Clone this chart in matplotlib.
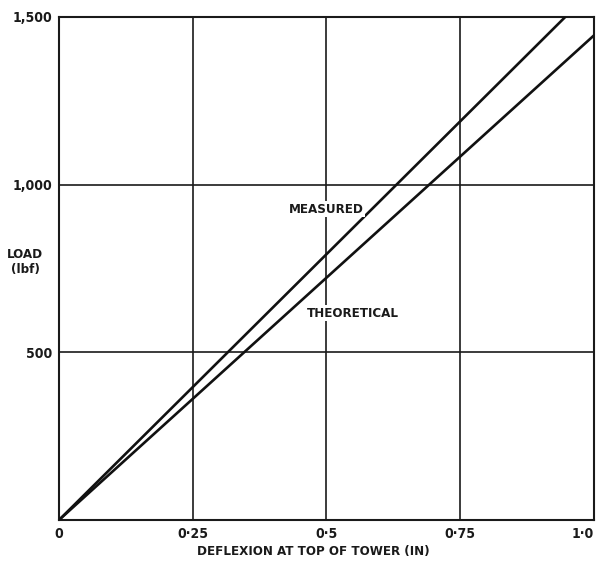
import matplotlib
matplotlib.use("Agg")
import matplotlib.pyplot as plt

# Load-deflexion data for the tower top
deflexion = [0.0, 1.0]
measured_load = [0.0, 1585.0]
theoretical_load = [0.0, 1445.0]

x_ticks = [0.0, 0.25, 0.5, 0.75, 1.0]
x_tick_labels = ["0", "0·25", "0·5", "0·75", "1·0"]
y_ticks = [500, 1000, 1500]
y_tick_labels = ["500", "1,000", "1,500"]

font = dict(family="DejaVu Sans", stretch="condensed", weight="bold")
ink = "#1a1a1a"

fig = plt.figure(figsize=(6.03, 5.65), dpi=100)
ax = fig.add_axes([0.0978, 0.0796, 0.8872, 0.8904])

ax.set_xlim(0, 1.0)
ax.set_ylim(0, 1500)

# grid
for xv in x_ticks[1:]:
    ax.axvline(xv, color=ink, lw=1.2, zorder=1)
for yv in y_ticks:
    ax.axhline(yv, color=ink, lw=1.2, zorder=1)

ax.plot(deflexion, measured_load, color="#111111", lw=1.9, zorder=3)
ax.plot(deflexion, theoretical_load, color="#111111", lw=1.9, zorder=3)

for s in ax.spines.values():
    s.set_linewidth(1.5)
    s.set_color(ink)

ax.set_xticks(x_ticks)
ax.set_xticklabels(x_tick_labels, fontsize=10, color=ink, **font)
ax.set_yticks(y_ticks)
ax.set_yticklabels(y_tick_labels, fontsize=10, color=ink, **font)
ax.tick_params(length=0, pad=5)
ax.get_xticklabels()[-1].set_horizontalalignment("right")
ax.get_xticklabels()[-1].set_x(1.012)

ax.text(0.5, 927, "MEASURED", ha="center", va="center", fontsize=9.5,
        color=ink, zorder=4,
        bbox=dict(facecolor="white", edgecolor="none", pad=1), **font)
ax.text(0.55, 617, "THEORETICAL", ha="center", va="center", fontsize=9.5,
        color=ink, zorder=4,
        bbox=dict(facecolor="white", edgecolor="none", pad=1), **font)

fig.text(25 / 603, 1 - 262 / 565, "LOAD\n(lbf)", ha="center", va="center",
         fontsize=9.5, color=ink, linespacing=1.1, **font)
fig.text(313 / 603, 1 - 551 / 565, "DEFLEXION AT TOP OF TOWER (IN)",
         ha="center", va="center", fontsize=9.5, color=ink, **font)

fig.savefig("out.png", dpi=100, facecolor="white")
